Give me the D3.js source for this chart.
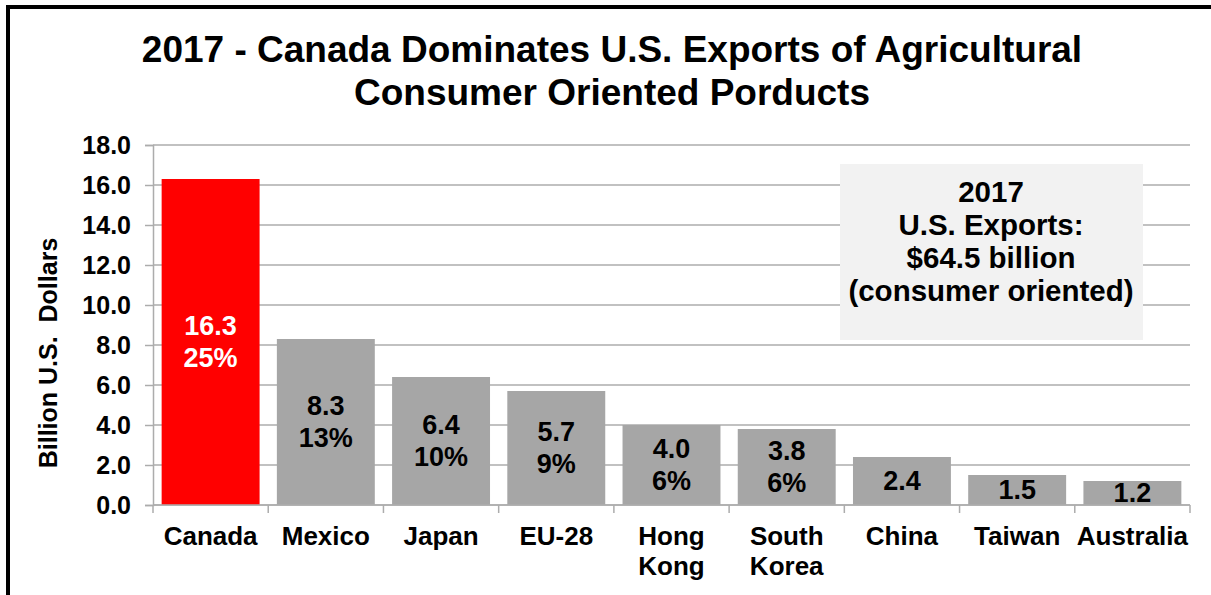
<!DOCTYPE html>
<html>
<head>
<meta charset="utf-8">
<script src="https://cdn.jsdelivr.net/npm/d3@7"></script>
<style>
  body { margin: 0; background: #fff; }
  svg text { font-family: Arial, "Liberation Sans", sans-serif; font-weight: bold; }
</style>
</head>
<body>
<svg id="chart" width="1211" height="595"></svg>
<script>
// chart data
const countries = ['Canada', 'Mexico', 'Japan', 'EU-28', 'Hong Kong', 'South Korea', 'China', 'Taiwan', 'Australia'];
const values = [16.3, 8.3, 6.4, 5.7, 4.0, 3.8, 2.4, 1.5, 1.2];
const shares = ['25%', '13%', '10%', '9%', '6%', '6%', '', '', ''];
const yTicks = [0, 2, 4, 6, 8, 10, 12, 14, 16, 18];

const titleLines = ['2017 - Canada Dominates U.S. Exports of Agricultural', 'Consumer Oriented Porducts'];
const noteLines = ['2017', 'U.S. Exports:', '$64.5 billion', '(consumer oriented)'];

const PLOT = { left: 153, right: 1190, top: 145, bottom: 505 };
const GRID = '#acacac';

const svg = d3.select('#chart');

// frame (right and bottom edges fall outside the picture)
svg.append('rect')
  .attr('x', 8).attr('y', 7)
  .attr('width', 1240).attr('height', 620)
  .attr('fill', 'none')
  .attr('stroke', '#000')
  .attr('stroke-width', 4);

const x = d3.scaleBand()
  .domain(countries)
  .range([PLOT.left, PLOT.right])
  .paddingInner(0.15)
  .paddingOuter(0.075);

const y = d3.scaleLinear()
  .domain([0, 18])
  .range([PLOT.bottom, PLOT.top]);

// gridlines
svg.append('g')
  .selectAll('line')
  .data(yTicks)
  .join('line')
  .attr('x1', PLOT.left).attr('x2', PLOT.right)
  .attr('y1', d => y(d)).attr('y2', d => y(d))
  .attr('stroke', GRID)
  .attr('stroke-width', 1.5);

// y axis
const yAxis = svg.append('g')
  .attr('transform', `translate(${PLOT.left},0)`)
  .call(d3.axisLeft(y).tickValues(yTicks).tickFormat(d3.format('.1f')).tickSize(8).tickPadding(14));
yAxis.select('.domain').attr('stroke', GRID).attr('stroke-width', 1.5);
yAxis.selectAll('.tick line').attr('stroke', GRID).attr('stroke-width', 1.5);
yAxis.selectAll('.tick text')
  .attr('font-size', 25)
  .attr('fill', '#000')
  .style('font-family', 'Arial, "Liberation Sans", sans-serif')
  .style('font-weight', 'bold');

// bars
svg.append('g')
  .selectAll('rect')
  .data(countries)
  .join('rect')
  .attr('x', d => x(d))
  .attr('y', (d, i) => y(values[i]))
  .attr('width', x.bandwidth())
  .attr('height', (d, i) => y(0) - y(values[i]))
  .attr('fill', (d, i) => i === 0 ? '#ff0000' : '#a6a6a6');

// x axis line + boundary ticks
svg.append('line')
  .attr('x1', PLOT.left).attr('x2', PLOT.right)
  .attr('y1', PLOT.bottom).attr('y2', PLOT.bottom)
  .attr('stroke', GRID).attr('stroke-width', 1.5);

svg.append('g')
  .selectAll('line')
  .data(d3.range(countries.length + 1))
  .join('line')
  .attr('x1', i => PLOT.left + i * x.step())
  .attr('x2', i => PLOT.left + i * x.step())
  .attr('y1', PLOT.bottom).attr('y2', PLOT.bottom + 8)
  .attr('stroke', GRID).attr('stroke-width', 1.5);

// category labels, wrapped on spaces
const catLabels = svg.append('g')
  .selectAll('text')
  .data(countries)
  .join('text')
  .attr('x', d => x(d) + x.bandwidth() / 2)
  .attr('y', 545)
  .attr('text-anchor', 'middle')
  .attr('font-size', 26)
  .attr('fill', '#000');

catLabels.each(function(d) {
  const words = d.split(' ');
  const t = d3.select(this);
  words.forEach((w, j) => {
    t.append('tspan')
      .attr('x', x(d) + x.bandwidth() / 2)
      .attr('dy', j === 0 ? 0 : 30)
      .text(w);
  });
});

// value labels inside bars
const LINE_H = 32;
svg.append('g')
  .selectAll('text')
  .data(countries)
  .join('text')
  .attr('text-anchor', 'middle')
  .attr('font-size', 27)
  .attr('fill', (d, i) => i === 0 ? '#fff' : '#000')
  .each(function(d, i) {
    const lines = [values[i].toFixed(1)];
    if (shares[i]) lines.push(shares[i]);
    const cx = x(d) + x.bandwidth() / 2;
    const cy = (y(values[i]) + y(0)) / 2;
    const first = cy - (lines.length - 1) * LINE_H / 2 + 9;
    const t = d3.select(this);
    lines.forEach((l, j) => {
      t.append('tspan')
        .attr('x', cx)
        .attr('y', first + j * LINE_H)
        .text(l);
    });
  });

// y axis title
svg.append('text')
  .attr('transform', 'translate(57,353) rotate(-90)')
  .attr('text-anchor', 'middle')
  .attr('font-size', 25)
  .attr('fill', '#000')
  .attr('xml:space', 'preserve')
  .text('Billion U.S.  Dollars');

// title
svg.append('g')
  .selectAll('text')
  .data(titleLines)
  .join('text')
  .attr('x', 612)
  .attr('y', (d, i) => 62 + i * 43)
  .attr('text-anchor', 'middle')
  .attr('font-size', 37)
  .attr('fill', '#000')
  .text(d => d);

// annotation box
svg.append('rect')
  .attr('x', 840).attr('y', 164)
  .attr('width', 303).attr('height', 176)
  .attr('fill', '#f2f2f2');

svg.append('g')
  .selectAll('text')
  .data(noteLines)
  .join('text')
  .attr('x', 991)
  .attr('y', (d, i) => 202 + i * 33)
  .attr('text-anchor', 'middle')
  .attr('font-size', 29.5)
  .attr('fill', '#000')
  .text(d => d);
</script>
</body>
</html>
